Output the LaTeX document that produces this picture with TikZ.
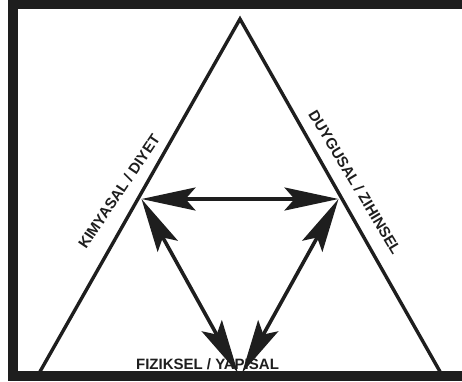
\documentclass[tikz,border=0pt]{standalone}
\usepackage{fontspec}
\setmainfont{Liberation Sans}[BoldFont=Liberation Sans Bold]
\newfontfamily\lblfont{Liberation Sans Bold}
\usetikzlibrary{arrows.meta}
\definecolor{ink}{HTML}{1E1E1E}
\begin{document}
\begin{tikzpicture}[x=1pt,y=-1pt,
  framebar/.style={draw=ink,line width=9.5pt,line join=miter},
  tri/.style={draw=ink,line width=3.4pt,line join=miter,miter limit=20},
  dbl/.style={draw=ink,line width=3.6pt,
    {Stealth[length=54pt,width=23pt,inset=10pt]}-{Stealth[length=54pt,width=23pt,inset=10pt]}},
  lbl/.style={font=\lblfont\fontsize{15}{18}\selectfont,text=ink,inner sep=0pt}]
\useasboundingbox (0,0) rectangle (462,381);
% frame
\draw[framebar] (462,4.5) -- (12.8,4.5) -- (12.8,376.2) -- (462,376.2);
% triangle
\coordinate (T) at (240,19);
\coordinate (BL) at (37.5,376);
\coordinate (BR) at (442.5,376);
\draw[tri] (BL) -- (T) -- (BR);
% labels
\node[lbl,rotate=56] (kim) at (119,191.5) {KIMYASAL / DIYET};
\node[lbl,rotate=-59] (duy) at (355,182) {DUYGUSAL / ZIHINSEL};
\node[lbl,anchor=base] (fiz) at (207.5,369) {FIZIKSEL / YAPISAL};
% arrows
\coordinate (L) at (141.5,199);
\coordinate (R) at (338.5,199);
\coordinate (B1) at (238,373);
\coordinate (B2) at (242,373);
\draw[dbl] (L) -- (R);
\draw[dbl] (L) -- (B1);
\draw[dbl] (R) -- (B2);
\end{tikzpicture}
\end{document}
